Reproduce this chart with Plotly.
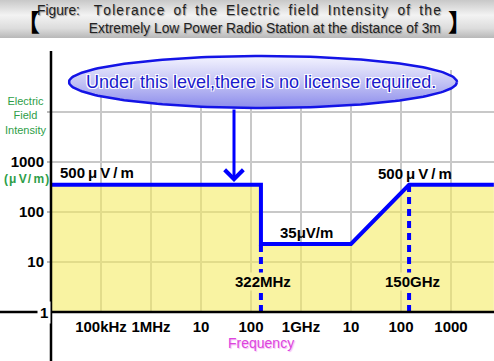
import numpy as np
import plotly.graph_objects as go

W, H = 494, 361

# ---- data ----
freq_hz = [1e4, 1.58e8, 1.58e8, 1e10, 1.45e11, 7.2e12]
level_uv = [350, 350, 23, 23, 350, 350]
marker_freq_hz = [1.58e8, 1.45e11]
marker_level = [23, 350]
x_tickvals = [1e5, 1e6, 1e7, 1e8, 1e9, 1e10, 1e11, 1e12]
x_ticktext = ["100kHz", "1MHz", "10", "100", "1GHz", "10", "100", "1000"]
y_tickvals = [10, 100, 1000, 10000]
y_ticktext = ["10", "100", "1000", ""]

FONT = "Liberation Sans, Arial, sans-serif"
BLUE = "#0000FF"
GREEN = "#2E9E48"
YELLOW_FILL = "rgba(245,235,95,0.58)"
YELLOW_BG = "#F9F3A2"

fig = go.Figure()

# baseline at the bottom of the axis, then filled area up to the limit line
fig.add_trace(go.Scatter(x=[freq_hz[0], freq_hz[-1]], y=[1, 1], mode="lines",
                         line=dict(width=0), hoverinfo="skip", showlegend=False))
fig.add_trace(go.Scatter(x=freq_hz, y=level_uv, mode="lines", fill="tonexty",
                         fillcolor=YELLOW_FILL, line=dict(width=0),
                         hoverinfo="skip", showlegend=False))
for f, lv in zip(marker_freq_hz, marker_level):
    fig.add_trace(go.Scatter(x=[f, f], y=[1, lv], mode="lines",
                             line=dict(color=BLUE, width=4, dash="7px,5px"),
                             hoverinfo="skip", showlegend=False))
fig.add_trace(go.Scatter(x=freq_hz, y=level_uv, mode="lines",
                         line=dict(color=BLUE, width=4),
                         hoverinfo="skip", showlegend=False))

# ---- decorations on a pixel overlay axis ----
# title banner
fig.add_trace(go.Scatter(x=[0, W, W, 0, 0], y=[0, 0, 38, 38, 0], mode="lines",
                         fill="toself", line=dict(width=0),
                         fillgradient=dict(type="vertical", start=0, stop=38,
                                           colorscale=[[0, "#C8C8C8"], [0.4, "#F3F3F3"],
                                                       [0.75, "#DCDCDC"], [1, "#B8B8B8"]]),
                         xaxis="x2", yaxis="y2", hoverinfo="skip", showlegend=False))
# ellipse callout
t = np.linspace(0, 2 * np.pi, 200)
ex = 263 + 194 * np.cos(t)
ey = 82 + 26 * np.sin(t)
fig.add_trace(go.Scatter(x=ex, y=ey, mode="lines", fill="toself",
                         line=dict(color="#1414E6", width=2.5),
                         fillgradient=dict(type="vertical", start=56, stop=108,
                                           colorscale=[[0, "#F4F4FF"], [0.5, "#C4C4F4"],
                                                       [1, "#8C8CEC"]]),
                         xaxis="x2", yaxis="y2", hoverinfo="skip", showlegend=False))

annotations = []

def txt(text, x, y, size, color="black", bold=False, xanchor="center", **kw):
    d = dict(text=text, x=x, y=y, xref="x2", yref="y2", showarrow=False,
             xanchor=xanchor, yanchor="middle",
             font=dict(family=kw.pop("family", FONT), size=size, color=color,
                       weight="bold" if bold else "normal",
                       shadow=kw.pop("shadow", "none")))
    d.update(kw)
    annotations.append(d)

# title
shadow_t = "1px 1px 1px #9a9a9a"
hs = "\u200a"
line1 = "\u2002\u200a\u200a".join(hs.join(w) for w in
                                   "Tolerance of the Electric field Intensity of the".split(" "))
title = ("Figure:\u2003" + line1 + "<br>"
         + "Extremely Low Power Radio Station at the distance of 3m")
txt(title, 443, 19, 13.8, "#222", xanchor="right", align="right", shadow=shadow_t)
txt("【", 28, 20, 24, "black", bold=True, family="Noto Sans CJK JP")
txt("】", 460, 20, 24, "black", bold=True, family="Noto Sans CJK JP")

# callout text
txt("Under this level,there is no license required.", 261, 82, 18, "#1A1ACC",
    shadow="-1px -1px 0 #fff, 1px -1px 0 #fff, -1px 1px 0 #fff, 1px 1px 0 #fff, 0 0 2px #fff")

# arrow
annotations.append(dict(x=234, y=182, ax=234, ay=108, xref="x2", yref="y2",
                        axref="x2", ayref="y2", showarrow=True, arrowhead=4,
                        arrowsize=1.2, arrowwidth=3, arrowcolor=BLUE, standoff=0, text=""))

# y axis title
txt("Electric<br>Field<br>Intensity", 25, 115, 11, GREEN)
txt("(\u200aμ\u2009V\u200a/\u2009m\u200a)", 26, 179, 12, GREEN, bold=True)
txt("1", 43.5, 312, 15, "black", bold=True, bgcolor="white", borderpad=2)

# level labels
txt("500\u2009μ\u2009V\u2009/\u2009m", 97, 172, 15, "black", bold=True)
txt("35μV/m", 306, 232, 15, "black", bold=True)
txt("500\u2009μ\u2009V\u2009/\u2009m", 415, 173, 15, "black", bold=True)
txt("322MHz", 263, 281, 15, "black", bold=True, bgcolor=YELLOW_BG, borderpad=0)
txt("150GHz", 412, 281, 15, "black", bold=True, bgcolor=YELLOW_BG, borderpad=0)
txt("Frequency", 261, 343, 14, "#DD44DD", shadow="1px 1px 1px #F4B8F4")

# axis lines
shapes = [
    dict(type="line", xref="x2", yref="y2", x0=0, x1=W, y0=312, y1=312,
         line=dict(color="black", width=2.5), layer="above"),
    dict(type="line", xref="x2", yref="y2", x0=51, x1=51, y0=51, y1=H,
         line=dict(color="black", width=2.5), layer="above"),
]

fig.update_layout(
    width=W, height=H,
    margin=dict(l=0, r=0, t=0, b=0),
    paper_bgcolor="white", plot_bgcolor="rgba(0,0,0,0)",
    showlegend=False,
    xaxis=dict(type="log", domain=[51 / W, 1], range=[4, 4 + (W - 51) / 50],
               tickvals=x_tickvals, ticktext=x_ticktext, ticks="", ticklabelstandoff=4,
               tickfont=dict(family=FONT, size=15, color="black", weight="bold"),
               showgrid=True, gridcolor="#C8C8C8", gridwidth=2,
               zeroline=False, showline=False, anchor="y", fixedrange=True),
    yaxis=dict(type="log", domain=[(H - 312) / H, (H - 70) / H], range=[0, (312 - 70) / 50],
               tickvals=y_tickvals, ticktext=y_ticktext, ticks="outside", ticklen=3,
               tickcolor="#BBBBBB", tickwidth=2,
               tickfont=dict(family=FONT, size=15, color="black", weight="bold"),
               showgrid=True, gridcolor="#C8C8C8", gridwidth=2,
               zeroline=False, showline=False, anchor="x", fixedrange=True),
    xaxis2=dict(domain=[0, 1], range=[0, W], visible=False, anchor="y2", fixedrange=True),
    yaxis2=dict(domain=[0, 1], range=[H, 0], visible=False, anchor="x2", fixedrange=True),
    annotations=annotations,
    shapes=shapes,
)

fig.write_html("out.html", config={"displayModeBar": False},
               post_script="document.body.style.margin='0';document.body.style.overflow='hidden';")
